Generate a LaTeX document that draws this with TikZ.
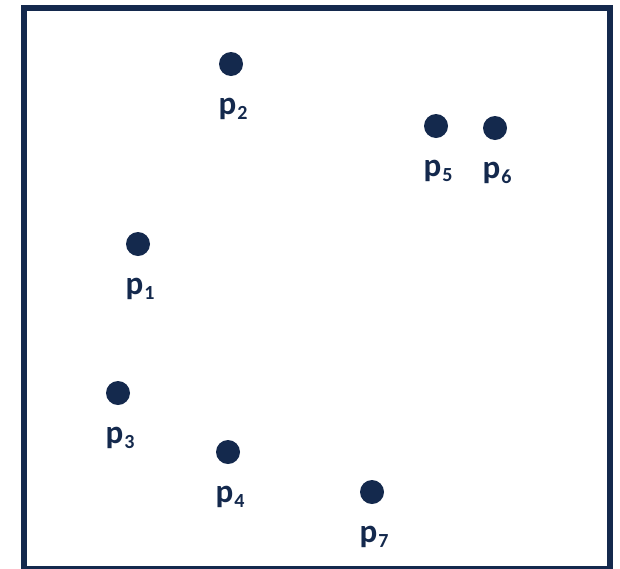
\documentclass[tikz,border=0pt]{standalone}
\usepackage{fontspec}
\setmainfont{Carlito}
\usetikzlibrary{positioning}
\definecolor{navy}{RGB}{20,41,77}
\newcommand{\pname}[1]{p\kern1pt\raisebox{-5pt}{\fontsize{20}{20}\selectfont #1}}

\begin{document}
\begin{tikzpicture}[x=1pt,y=-1pt,
  dot/.style={circle, fill=navy, inner sep=0pt, minimum size=24pt},
  lbl/.style={anchor=base, text=navy, inner sep=0pt,
    font=\fontsize{33}{36}\selectfont\bfseries}]
  \useasboundingbox (0,0) rectangle (620,568);
  \draw[navy, line width=6pt] (24,8) rectangle (609.5,568.7);
  % points
  \node[dot] (p1) at (138,244) {};
  \node[dot] (p2) at (231,64) {};
  \node[dot] (p3) at (118,393) {};
  \node[dot] (p4) at (228,452) {};
  \node[dot] (p5) at (436,126) {};
  \node[dot] (p6) at (495,128) {};
  \node[dot] (p7) at (372,492) {};
  % labels
  \node[lbl] (l1) at ([xshift=2pt,yshift=-50pt]p1.center) {\pname{1}};
  \node[lbl] (l2) at ([xshift=2pt,yshift=-50pt]p2.center) {\pname{2}};
  \node[lbl] (l3) at ([xshift=2pt,yshift=-50pt]p3.center) {\pname{3}};
  \node[lbl] (l4) at ([xshift=2pt,yshift=-50pt]p4.center) {\pname{4}};
  \node[lbl] (l5) at ([xshift=2pt,yshift=-50pt]p5.center) {\pname{5}};
  \node[lbl] (l6) at ([xshift=2pt,yshift=-50pt]p6.center) {\pname{6}};
  \node[lbl] (l7) at ([xshift=2pt,yshift=-50pt]p7.center) {\pname{7}};
\end{tikzpicture}
\end{document}
